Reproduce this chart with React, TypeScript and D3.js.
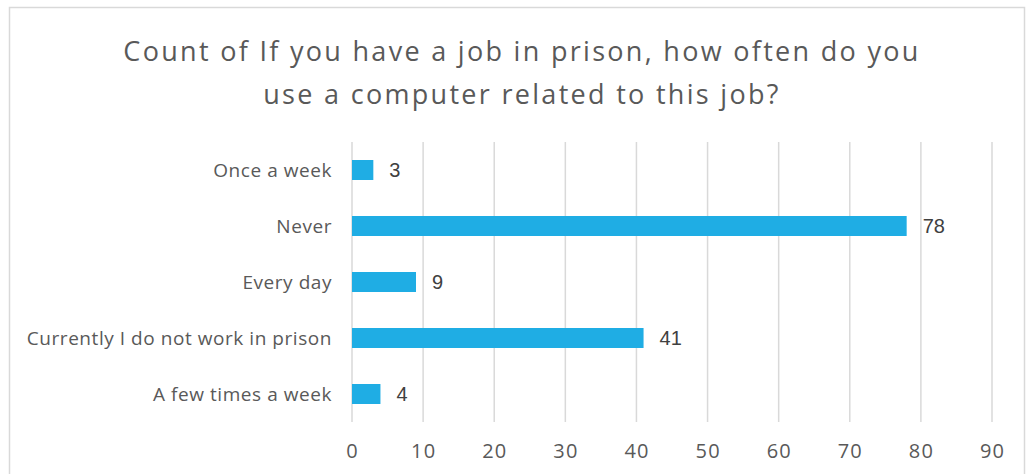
import React, { useRef, useEffect } from "react";
import * as d3 from "d3";

const categories = [
  "Once a week",
  "Never",
  "Every day",
  "Currently I do not work in prison",
  "A few times a week",
];
const counts = [3, 78, 9, 41, 4];
const tickValues = [0, 10, 20, 30, 40, 50, 60, 70, 80, 90];
const titleLines = [
  "Count of If you have a job in prison, how often do you",
  "use a computer related to this job?",
];

const W = 1034;
const H = 474;
const FONT = "'Open Sans', 'DejaVu Sans', sans-serif";
const LABEL_FONT = "'Liberation Sans', Arial, sans-serif";

export default function App() {
  const ref = useRef<SVGSVGElement>(null);

  useEffect(() => {
    const svg = d3.select(ref.current);
    svg.selectAll("*").remove();

    const x = d3.scaleLinear().domain([0, 90]).range([352, 992]);
    const y = d3
      .scaleBand<string>()
      .domain(categories)
      .range([142, 422])
      .paddingInner(0.643)
      .paddingOuter(0.3215);

    svg
      .append("rect")
      .attr("x", 0)
      .attr("y", 0)
      .attr("width", W)
      .attr("height", H)
      .attr("fill", "#ffffff");

    svg
      .append("rect")
      .attr("x", 9.5)
      .attr("y", 7.5)
      .attr("width", 1015)
      .attr("height", 480)
      .attr("fill", "#ffffff")
      .attr("stroke", "#d9d9d9")
      .attr("stroke-width", 1.5);

    // title
    const title = svg
      .append("text")
      .attr("text-anchor", "middle")
      .attr("font-family", FONT)
      .attr("font-size", 27)
      .attr("letter-spacing", 2.3)
      .attr("fill", "#595959");
    titleLines.forEach((t, i) => {
      title
        .append("tspan")
        .attr("x", 522)
        .attr("y", 61 + i * 43)
        .text(t);
    });

    // grid
    svg
      .append("g")
      .selectAll("line")
      .data(tickValues)
      .join("line")
      .attr("x1", (d) => x(d))
      .attr("x2", (d) => x(d))
      .attr("y1", 142)
      .attr("y2", 422)
      .attr("stroke", "#d9d9d9")
      .attr("stroke-width", 1.5);

    // tick labels
    svg
      .append("g")
      .selectAll("text")
      .data(tickValues)
      .join("text")
      .attr("x", (d) => x(d) + 0.6)
      .attr("y", 458)
      .attr("text-anchor", "middle")
      .attr("font-family", FONT)
      .attr("font-size", 20)
      .attr("letter-spacing", 1.2)
      .attr("fill", "#595959")
      .text((d) => String(d));

    // category labels
    svg
      .append("g")
      .selectAll("text")
      .data(categories)
      .join("text")
      .attr("x", 332)
      .attr("y", (d) => (y(d) as number) + y.bandwidth() / 2)
      .attr("dy", "0.35em")
      .attr("text-anchor", "end")
      .attr("font-family", FONT)
      .attr("font-size", 19)
      .attr("letter-spacing", 0.55)
      .attr("fill", "#595959")
      .text((d) => d);

    // bars
    svg
      .append("g")
      .selectAll("rect")
      .data(categories)
      .join("rect")
      .attr("x", x(0))
      .attr("y", (d) => y(d) as number)
      .attr("width", (d, i) => x(counts[i]) - x(0))
      .attr("height", y.bandwidth())
      .attr("fill", "#1fade4");

    // data labels
    svg
      .append("g")
      .selectAll("text")
      .data(categories)
      .join("text")
      .attr("x", (d, i) => x(counts[i]) + 16)
      .attr("y", (d) => (y(d) as number) + y.bandwidth() / 2)
      .attr("dy", "0.36em")
      .attr("font-family", LABEL_FONT)
      .attr("font-size", 20)
      .attr("fill", "#404040")
      .text((d, i) => String(counts[i]));
  }, []);

  return (
    <svg
      ref={ref}
      width={W}
      height={H}
      style={{ position: "absolute", left: 0, top: 0, display: "block" }}
    />
  );
}
